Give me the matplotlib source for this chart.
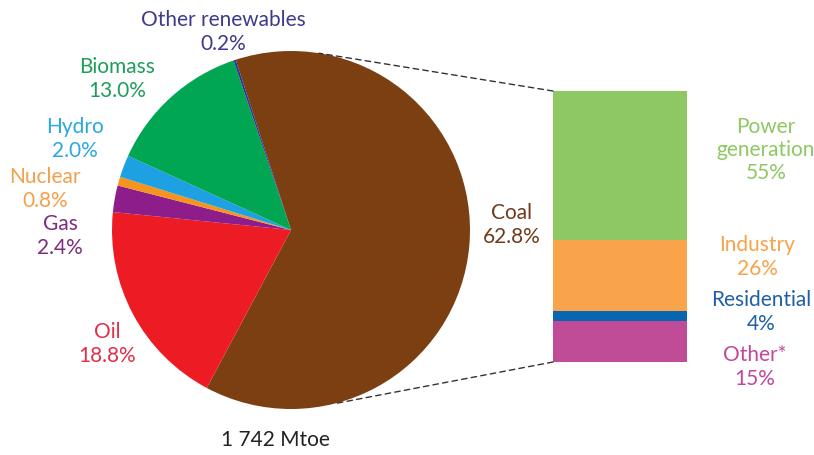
import matplotlib
matplotlib.use("Agg")
import matplotlib.pyplot as plt
from matplotlib.patches import ConnectionPatch
import numpy as np

# Data
sources = ["Coal", "Oil", "Gas", "Nuclear", "Hydro", "Biomass", "Other renewables"]
shares = [62.8, 18.8, 2.4, 0.8, 2.0, 13.0, 0.2]
pie_colors = ["#7B3F12", "#ED1C24", "#8C1D8A", "#F7941D", "#1DA1E2", "#00A651", "#2E3192"]
label_colors = ["#6E3C1C", "#E0314B", "#7D2D7E", "#F4A04A", "#2AA8E0", "#1E9E5A", "#3E3A8E"]

sectors = ["Other*", "Residential", "Industry", "Power\ngeneration"]
sector_shares = [15, 4, 26, 55]
bar_colors = ["#C04C97", "#0865B0", "#F9A44A", "#8DC862"]
sector_label_colors = ["#C0479A", "#1F5FA8", "#F6A34A", "#8DC862"]

total_label = "1 742 Mtoe"

W, H = 814, 456
fig = plt.figure(figsize=(W / 100, H / 100), dpi=100)
ax = fig.add_axes([0, 0, 1, 1])
ax.set_xlim(0, W)
ax.set_ylim(0, H)
ax.set_aspect("equal")
ax.axis("off")

cx, cy, r = 291, H - 231, 179
wedges, _ = ax.pie(shares, colors=pie_colors, startangle=108, counterclock=False,
                   center=(cx, cy), radius=r, frame=True,
                   wedgeprops=dict(linewidth=0))
ax.set_xlim(0, W)
ax.set_ylim(0, H)
ax.axis("off")

font = "Lato"
fs = 15
ls = 1.2

label_pos = {
    "Coal": (512, 225),
    "Oil": (107, 344),
    "Gas": (60, 236),
    "Nuclear": (45, 189),
    "Hydro": (75, 139),
    "Biomass": (117, 79),
    "Other renewables": (223, 32),
}
for name, val, col in zip(sources, shares, label_colors):
    x, y = label_pos[name]
    ax.text(x, H - y, f"{name}\n{val:.1f}%", color=col, ha="center", va="center",
            fontsize=fs, family=font, linespacing=ls)

ax.text(275, H - 440, total_label, color="#222222", ha="center", va="center",
        fontsize=fs, family=font)

# Bar axes
bx0, by_top, bw, bh = 553, 92, 134, 271
bax = fig.add_axes([bx0 / W, (H - by_top - bh) / H, bw / W, bh / H])
bottoms = np.concatenate([[0], np.cumsum(sector_shares)[:-1]])
bax.bar([0] * len(sector_shares), sector_shares, bottom=bottoms, width=1.0,
        color=bar_colors, linewidth=0)
bax.set_xlim(-0.5, 0.5)
bax.set_ylim(0, 100)
bax.axis("off")

sector_pos = {
    "Power\ngeneration": (766, 150),
    "Industry": (757, 257),
    "Residential": (761, 312),
    "Other*": (755, 367),
}
for name, val, col in zip(sectors, sector_shares, sector_label_colors):
    x, y = sector_pos[name]
    ax.text(x, H - y, f"{name}\n{val}%", color=col, ha="center", va="center",
            fontsize=fs, family=font, linespacing=ls)

# Connector dashed lines
a_top, a_bot = np.deg2rad(81), np.deg2rad(-76)
p_top = (cx + r * np.cos(a_top), cy + r * np.sin(a_top))
p_bot = (cx + r * np.cos(a_bot), cy + r * np.sin(a_bot))
for p, yb in [(p_top, 100), (p_bot, 0)]:
    con = ConnectionPatch(xyA=(-0.5, yb), coordsA=bax.transData, xyB=p, coordsB=ax.transData,
                          linestyle=(0, (4, 3)), color="#333333", linewidth=1)
    fig.add_artist(con)

fig.savefig("out.png", dpi=100)
